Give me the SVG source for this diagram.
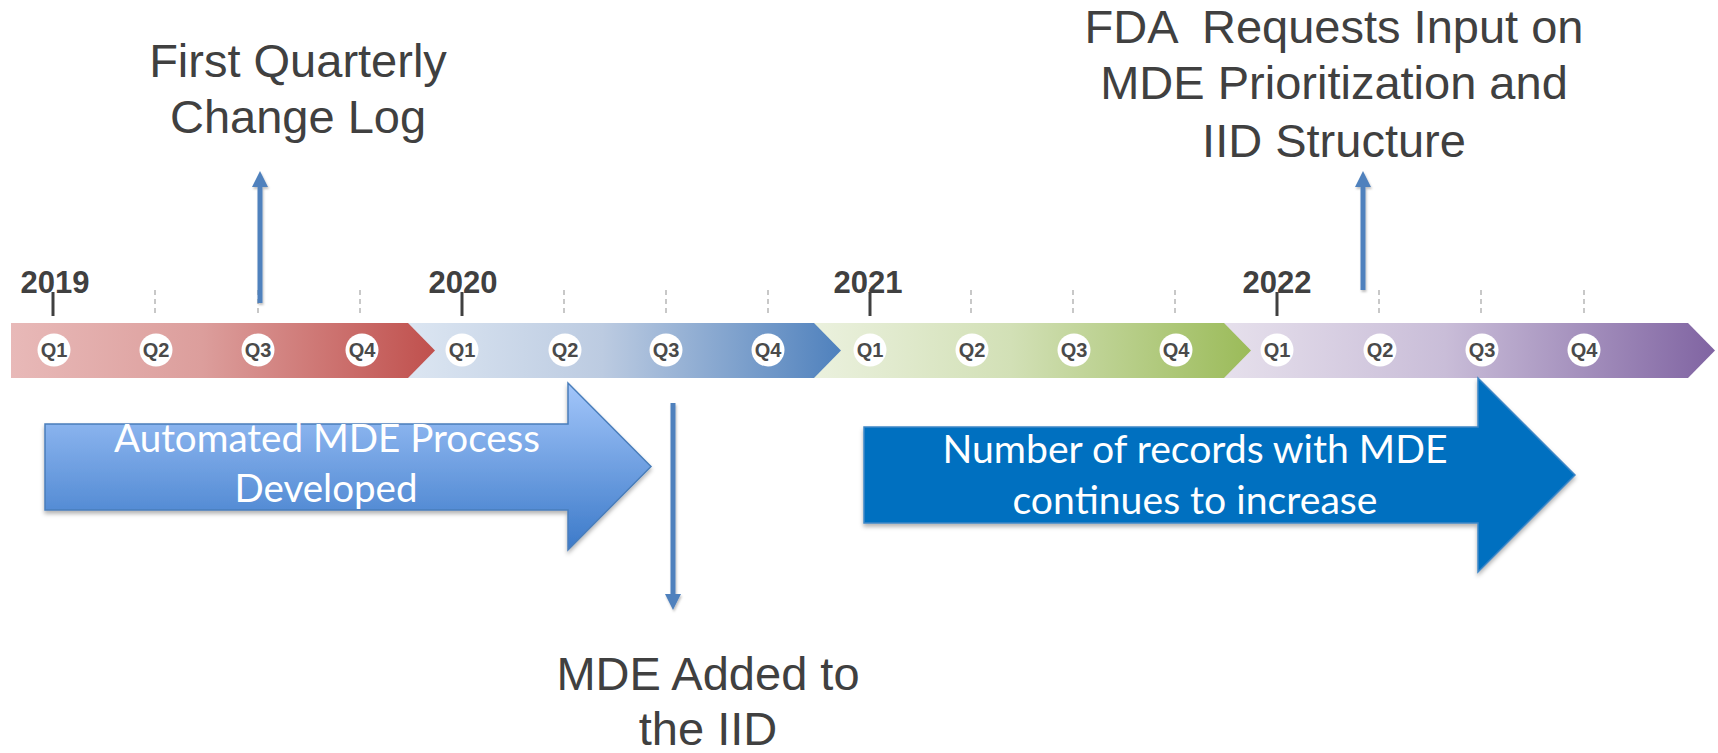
<svg xmlns="http://www.w3.org/2000/svg" width="1718" height="753" viewBox="0 0 1718 753">
  <defs>
    <style>
      .label { font-family: "Liberation Sans", Arial, sans-serif; font-size: 47px; fill: #404040; text-anchor: middle; }
      .year { font-family: "Liberation Sans", Arial, sans-serif; font-size: 31px; font-weight: bold; fill: #404040; text-anchor: middle; }
      .q { font-family: "Liberation Sans", Arial, sans-serif; font-size: 20px; font-weight: bold; fill: #4a4a4a; text-anchor: middle; }
      .qdot { fill: #ffffff; }
      .tick { stroke: #404040; stroke-width: 3; }
      .qtick { stroke: #c8c8c8; stroke-width: 2; stroke-dasharray: 5 4; }
      .callout { font-family: Lato, "Open Sans", sans-serif; font-size: 39px; fill: #ffffff; text-anchor: middle; }
      .conn { stroke: #4f81bd; stroke-width: 5; fill: none; }
    </style>
    <linearGradient id="gRed" x1="0" y1="0" x2="1" y2="0">
      <stop offset="0" stop-color="#e8b9b8"/>
      <stop offset="0.45" stop-color="#dc9e9c"/>
      <stop offset="1" stop-color="#c0504d"/>
    </linearGradient>
    <linearGradient id="gBlue" x1="0" y1="0" x2="1" y2="0">
      <stop offset="0" stop-color="#dce6f2"/>
      <stop offset="0.45" stop-color="#bccbe1"/>
      <stop offset="1" stop-color="#4f81bd"/>
    </linearGradient>
    <linearGradient id="gGreen" x1="0" y1="0" x2="1" y2="0">
      <stop offset="0" stop-color="#ebf1de"/>
      <stop offset="0.45" stop-color="#d2e0b6"/>
      <stop offset="1" stop-color="#9bbb59"/>
    </linearGradient>
    <linearGradient id="gPurple" x1="0" y1="0" x2="1" y2="0">
      <stop offset="0" stop-color="#e6e0ec"/>
      <stop offset="0.45" stop-color="#c9bdd8"/>
      <stop offset="1" stop-color="#8064a2"/>
    </linearGradient>
    <linearGradient id="gArrow" x1="0" y1="0" x2="0" y2="1">
      <stop offset="0" stop-color="#a3c6fa"/>
      <stop offset="1" stop-color="#3c7ac9"/>
    </linearGradient>
    <filter id="shadow" x="-10%" y="-10%" width="120%" height="130%">
      <feDropShadow dx="0" dy="3" stdDeviation="2" flood-color="#000" flood-opacity="0.3"/>
    </filter>
    <filter id="lineShadow" x="-50%" y="-10%" width="200%" height="120%">
      <feDropShadow dx="1" dy="2" stdDeviation="1.2" flood-color="#000" flood-opacity="0.25"/>
    </filter>
    <marker id="head" viewBox="0 0 16 16" markerWidth="16" markerHeight="16" refX="1" refY="8" orient="auto" markerUnits="userSpaceOnUse">
      <path d="M0,0 L16,8 L0,16 Z" fill="#4f81bd"/>
    </marker>
  </defs>

  <rect width="1718" height="753" fill="#ffffff"/>

  <!-- timeline band: later years first so each chevron point overlaps the next -->
  <g id="band">
    <path d="M1224,323 H1688 L1715,350.5 L1688,378 H1224 Z" fill="url(#gPurple)"/>
    <path d="M814,323 H1224 L1251,350.5 L1224,378 H814 Z" fill="url(#gGreen)"/>
    <path d="M407,323 H814 L841,350.5 L814,378 H407 Z" fill="url(#gBlue)"/>
    <path d="M11,323 H408 L435,350.5 L408,378 H11 Z" fill="url(#gRed)"/>
  </g>

  <!-- year ticks and quarter guides -->
  <g id="ticks">
    <line class="tick" x1="53" y1="292" x2="53" y2="316"/>
    <line class="qtick" x1="155" y1="290" x2="155" y2="316"/>
    <line class="qtick" x1="258" y1="290" x2="258" y2="316"/>
    <line class="qtick" x1="360" y1="290" x2="360" y2="316"/>
    <line class="tick" x1="462" y1="292" x2="462" y2="316"/>
    <line class="qtick" x1="564" y1="290" x2="564" y2="316"/>
    <line class="qtick" x1="666" y1="290" x2="666" y2="316"/>
    <line class="qtick" x1="768" y1="290" x2="768" y2="316"/>
    <line class="tick" x1="870" y1="292" x2="870" y2="316"/>
    <line class="qtick" x1="971" y1="290" x2="971" y2="316"/>
    <line class="qtick" x1="1073" y1="290" x2="1073" y2="316"/>
    <line class="qtick" x1="1175" y1="290" x2="1175" y2="316"/>
    <line class="tick" x1="1277" y1="292" x2="1277" y2="316"/>
    <line class="qtick" x1="1379" y1="290" x2="1379" y2="316"/>
    <line class="qtick" x1="1481" y1="290" x2="1481" y2="316"/>
    <line class="qtick" x1="1584" y1="290" x2="1584" y2="316"/>
  </g>

  <g id="years">
    <text class="year" x="55" y="293">2019</text>
    <text class="year" x="463" y="293">2020</text>
    <text class="year" x="868" y="293">2021</text>
    <text class="year" x="1277" y="293">2022</text>
  </g>

  <!-- quarter markers -->
  <g id="quarters">
    <g id="q2019-1"><circle class="qdot" cx="54" cy="350" r="16.5"/><text class="q" x="54" y="357">Q1</text></g>
    <g id="q2019-2"><circle class="qdot" cx="156" cy="350" r="16.5"/><text class="q" x="156" y="357">Q2</text></g>
    <g id="q2019-3"><circle class="qdot" cx="258" cy="350" r="16.5"/><text class="q" x="258" y="357">Q3</text></g>
    <g id="q2019-4"><circle class="qdot" cx="362" cy="350" r="16.5"/><text class="q" x="362" y="357">Q4</text></g>
    <g id="q2020-1"><circle class="qdot" cx="462" cy="350" r="16.5"/><text class="q" x="462" y="357">Q1</text></g>
    <g id="q2020-2"><circle class="qdot" cx="565" cy="350" r="16.5"/><text class="q" x="565" y="357">Q2</text></g>
    <g id="q2020-3"><circle class="qdot" cx="666" cy="350" r="16.5"/><text class="q" x="666" y="357">Q3</text></g>
    <g id="q2020-4"><circle class="qdot" cx="768" cy="350" r="16.5"/><text class="q" x="768" y="357">Q4</text></g>
    <g id="q2021-1"><circle class="qdot" cx="870" cy="350" r="16.5"/><text class="q" x="870" y="357">Q1</text></g>
    <g id="q2021-2"><circle class="qdot" cx="972" cy="350" r="16.5"/><text class="q" x="972" y="357">Q2</text></g>
    <g id="q2021-3"><circle class="qdot" cx="1074" cy="350" r="16.5"/><text class="q" x="1074" y="357">Q3</text></g>
    <g id="q2021-4"><circle class="qdot" cx="1176" cy="350" r="16.5"/><text class="q" x="1176" y="357">Q4</text></g>
    <g id="q2022-1"><circle class="qdot" cx="1277" cy="350" r="16.5"/><text class="q" x="1277" y="357">Q1</text></g>
    <g id="q2022-2"><circle class="qdot" cx="1380" cy="350" r="16.5"/><text class="q" x="1380" y="357">Q2</text></g>
    <g id="q2022-3"><circle class="qdot" cx="1482" cy="350" r="16.5"/><text class="q" x="1482" y="357">Q3</text></g>
    <g id="q2022-4"><circle class="qdot" cx="1584" cy="350" r="16.5"/><text class="q" x="1584" y="357">Q4</text></g>
  </g>

  <!-- milestone labels -->
  <g id="first-change-log">
    <text class="label" x="298" y="77">First Quarterly</text>
    <text class="label" x="298" y="133">Change Log</text>
  </g>
  <g id="fda-request">
    <text class="label" x="1334" y="43" xml:space="preserve">FDA  Requests Input on</text>
    <text class="label" x="1334" y="99">MDE Prioritization and</text>
    <text class="label" x="1334" y="157">IID Structure</text>
  </g>
  <g id="mde-added">
    <text class="label" x="708" y="690">MDE Added to</text>
    <text class="label" x="708" y="745">the IID</text>
  </g>

  <!-- block arrows -->
  <g id="automated-process">
    <path d="M45,424 H568 V383 L651,466.5 L568,550 V510 H45 Z" fill="url(#gArrow)" stroke="#4a7ebb" stroke-width="1.5" filter="url(#shadow)"/>
    <text class="callout" x="327" y="452" textLength="426" lengthAdjust="spacingAndGlyphs">Automated MDE Process</text>
    <text class="callout" x="326" y="502" textLength="183" lengthAdjust="spacingAndGlyphs">Developed</text>
  </g>
  <g id="records-increase">
    <path d="M864,427 H1478 V378 L1575,475 L1478,572 V523 H864 Z" fill="#0070c0" stroke="#3d86c6" stroke-width="1.5" filter="url(#shadow)"/>
    <text class="callout" x="1195" y="463" textLength="505" lengthAdjust="spacingAndGlyphs">Number of records with MDE</text>
    <text class="callout" x="1195" y="514" textLength="365" lengthAdjust="spacingAndGlyphs">continues to increase</text>
  </g>

  <!-- connectors from the timeline to the milestone labels -->
  <g id="connectors" filter="url(#lineShadow)">
    <line class="conn" x1="260" y1="303" x2="260" y2="186" marker-end="url(#head)"/>
    <line class="conn" x1="1363" y1="290" x2="1363" y2="186" marker-end="url(#head)"/>
    <line class="conn" x1="673" y1="403" x2="673" y2="595" marker-end="url(#head)"/>
  </g>
</svg>
